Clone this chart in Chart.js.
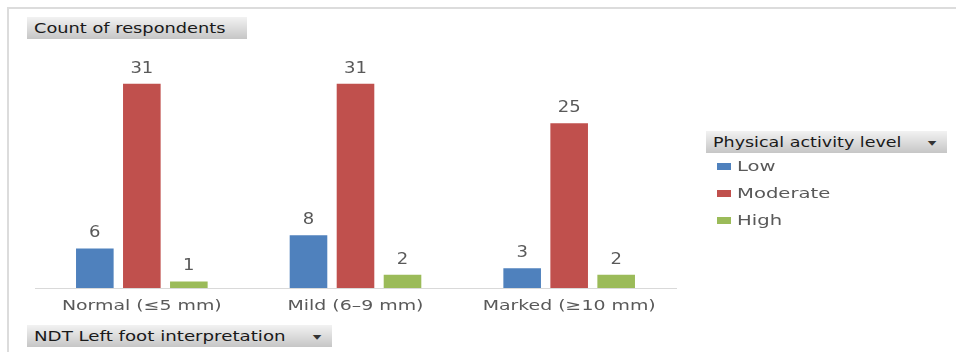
<!DOCTYPE html>
<html>
<head>
<meta charset="utf-8">
<script src="https://cdn.jsdelivr.net/npm/chart.js@4.4.1/dist/chart.umd.min.js"></script>
<style>
  html, body { margin: 0; padding: 0; background: #fff; }
  #wrap { position: relative; width: 956px; height: 352px; overflow: hidden; font-family: "DejaVu Sans", sans-serif; }
  #frame { position: absolute; left: 7px; top: 7px; width: 960px; height: 360px; border-top: 2px solid #dcdcdc; border-left: 2px solid #dcdcdc; }
  canvas { position: absolute; left: 0; top: 0; }
  .btn { position: absolute; height: 22px; line-height: 22px; box-sizing: border-box; padding-left: 7px;
         background: linear-gradient(#f2f2f2, #c6c6c6); color: #1a1a1a; font-size: 14px; white-space: nowrap; }
  .btn .arrow { position: absolute; right: 12px; top: 1px; font-size: 8px; color: #333; transform: scale(1.4, 0.8); }
  .wide { display: inline-block; transform-origin: 0 50%; }
  #legend { position: absolute; left: 717px; top: 155px; font-size: 14px; color: #595959; }
  #legend .item { position: relative; height: 27px; line-height: 23px; padding-left: 20px; white-space: nowrap; }
  #legend .sw { position: absolute; left: 0; top: 8px; width: 14px; height: 7px; }
</style>
</head>
<body>
<div id="wrap">
  <div id="frame"></div>
  <canvas id="c" width="956" height="352"></canvas>
  <div class="btn" style="left:27px; top:17px; width:220px;"><span class="wide" style="transform:scaleX(1.27)">Count of respondents</span></div>
  <div class="btn" style="left:706px; top:131px; width:241px;"><span class="wide" style="transform:scaleX(1.25)">Physical activity level</span><span class="arrow">&#9660;</span></div>
  <div id="legend"></div>
  <div class="btn" style="left:27px; top:325px; width:305px;"><span class="wide" style="transform:scaleX(1.3)">NDT Left foot interpretation</span><span class="arrow">&#9660;</span></div>
</div>
<script>
// NDT left-foot categories and respondent counts per activity level
const categories = ["Normal (\u22645 mm)", "Mild (6\u20139 mm)", "Marked (\u226510 mm)"];
const seriesNames = ["Low", "Moderate", "High"];
const lowCounts = [6, 8, 3];
const moderateCounts = [31, 31, 25];
const highCounts = [1, 2, 2];
const seriesColors = ["#4F81BD", "#C0504D", "#9BBB59"];

const seriesValues = [lowCounts, moderateCounts, highCounts];
const FONT = '"DejaVu Sans", sans-serif';

// draw text horizontally widened around its centre
function wideText(ctx, text, x, y, sx) {
  ctx.save();
  ctx.translate(x, y);
  ctx.scale(sx, 1);
  ctx.fillText(text, 0, 0);
  ctx.restore();
}

// value labels above each bar, category labels under the axis
const chartText = {
  id: 'chartText',
  afterDatasetsDraw(chart) {
    const ctx = chart.ctx;
    ctx.save();
    ctx.fillStyle = '#595959';
    ctx.textAlign = 'center';
    ctx.textBaseline = 'middle';
    ctx.font = '15px ' + FONT;
    chart.data.datasets.forEach((ds, i) => {
      chart.getDatasetMeta(i).data.forEach((bar, j) => {
        wideText(ctx, String(ds.data[j]), bar.x, bar.y - 15, 1.2);
      });
    });
    const xs = chart.scales.x;
    ctx.font = '14px ' + FONT;
    chart.data.labels.forEach((lab, k) => {
      wideText(ctx, lab, xs.getPixelForTick(k), chart.chartArea.bottom + 18, 1.35);
    });
    ctx.restore();
  }
};

new Chart(document.getElementById('c'), {
  type: 'bar',
  data: {
    labels: categories,
    datasets: seriesNames.map((name, i) => ({
      label: name,
      data: seriesValues[i],
      backgroundColor: seriesColors[i],
      borderWidth: 0,
      categoryPercentage: 0.66,
      barPercentage: 0.8
    }))
  },
  options: {
    responsive: false,
    animation: false,
    devicePixelRatio: 1,
    layout: { padding: { left: 35, right: 280, top: 57.5, bottom: 0 } },
    plugins: { legend: { display: false }, tooltip: { enabled: false } },
    scales: {
      x: {
        grid: { display: false, drawTicks: false },
        border: { display: true, color: '#d9d9d9', width: 1 },
        ticks: { display: false },
        afterFit(scale) { scale.height = 64; }
      },
      y: { display: false, min: 0, max: 35 }
    }
  },
  plugins: [chartText]
});

// legend entries built from the series
const legend = document.getElementById('legend');
seriesNames.forEach((name, i) => {
  const item = document.createElement('div');
  item.className = 'item';
  const sw = document.createElement('span');
  sw.className = 'sw';
  sw.style.background = seriesColors[i];
  item.appendChild(sw);
  const txt = document.createElement('span');
  txt.className = 'wide';
  txt.style.transform = 'scaleX(1.4)';
  txt.textContent = name;
  item.appendChild(txt);
  legend.appendChild(item);
});
</script>
</body>
</html>
